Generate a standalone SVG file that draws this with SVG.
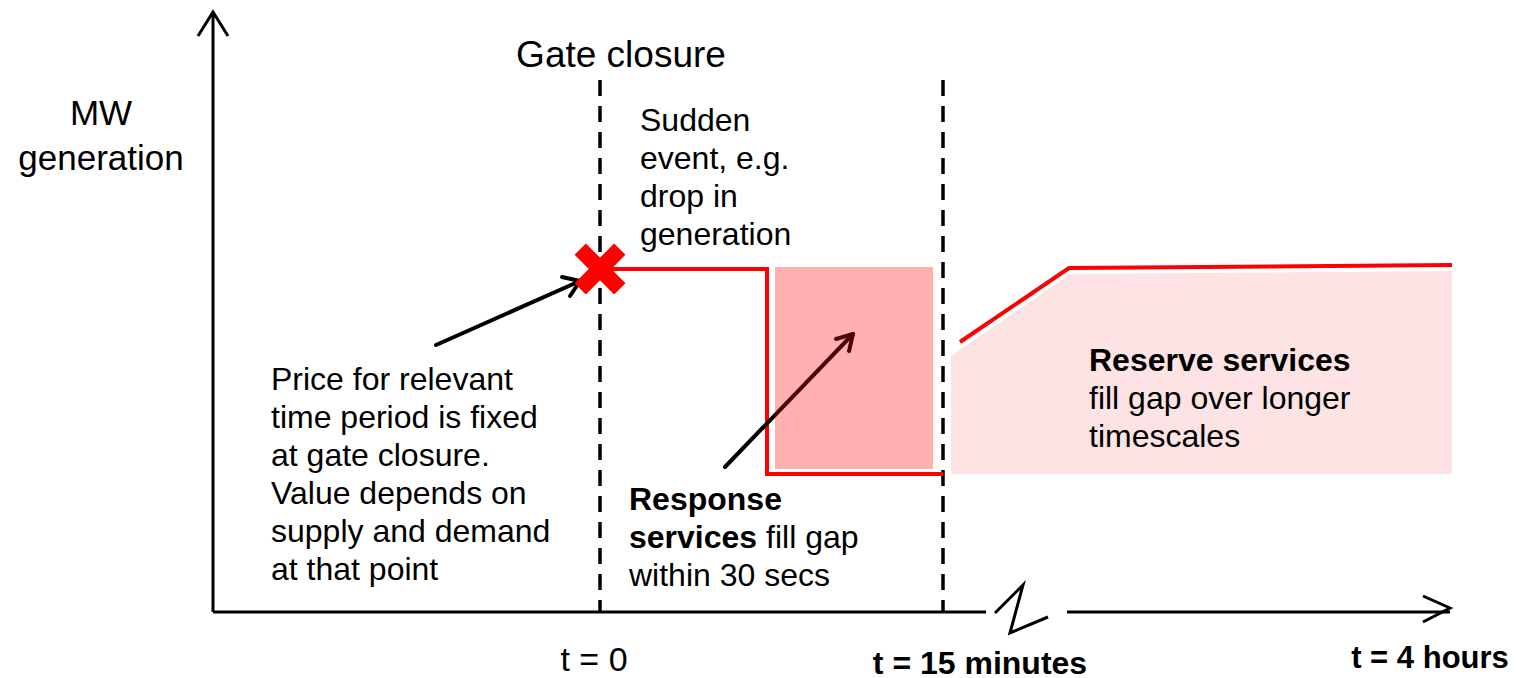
<svg xmlns="http://www.w3.org/2000/svg" width="1516" height="678" viewBox="0 0 1516 678">
<style>
text{font-family:"Liberation Sans",Arial,sans-serif;font-size:32px;fill:#000}
.b{font-weight:bold}
.ax{stroke:#000;stroke-width:3;fill:none}
.dash{stroke:#000;stroke-width:3.5;stroke-dasharray:16 10;fill:none}
.red{stroke:#ff0000;stroke-width:4;fill:none}
.arr{stroke:#000;stroke-width:4;fill:none;stroke-linecap:round;stroke-linejoin:round}
</style>
<rect width="1516" height="678" fill="#fff"/>
<g id="reserve-area">
<polygon points="951,356 1070,274 1452,271 1452,474 951,474" fill="#fde3e3"/>
</g>
<g id="connectors">
<g id="axes">
<line class="ax" x1="213" y1="612" x2="213" y2="12"/>
<polyline class="ax" points="198,36 213,12 228,36"/>
<line class="ax" x1="213" y1="612" x2="986" y2="612"/>
<polyline class="ax" points="995,613 1023,585 1010,633 1048,617"/>
<line class="ax" x1="1067" y1="612" x2="1450" y2="612"/>
<polyline class="ax" points="1423,596 1450,608 1423,622"/>
</g>
<line class="dash" x1="600" y1="80" x2="600" y2="612"/>
<line class="dash" x1="943" y1="80" x2="943" y2="612"/>
<polyline class="red" points="600,269 767,269 767,474 943,474"/>
<polyline class="red" points="960,342 1069,268 1452,265"/>
<line class="arr" x1="436" y1="345" x2="580" y2="281"/>
<polyline class="arr" points="562,277 580,281 570,296"/>
<line class="arr" x1="725" y1="467" x2="853" y2="334"/>
<polyline class="arr" points="836,339 853,334 849,351"/>
</g>
<g id="response-box">
<rect x="775" y="267" width="158" height="202" fill="#ff0000" fill-opacity="0.31"/>
</g>
<g id="gate-marker">
<rect x="572" y="261" width="56" height="16" fill="#ff0000" transform="rotate(45 600 269)"/>
<rect x="572" y="261" width="56" height="16" fill="#ff0000" transform="rotate(-45 600 269)"/>
</g>
<g id="labels">
<text x="101" y="125" text-anchor="middle" style="font-size:35px">MW</text>
<text x="101" y="170" text-anchor="middle" style="font-size:35px">generation</text>
<text x="621" y="67" text-anchor="middle" style="font-size:37px">Gate closure</text>
<text x="640" y="131">Sudden</text>
<text x="640" y="169">event, e.g.</text>
<text x="640" y="207">drop in</text>
<text x="640" y="245">generation</text>
<text x="271" y="390">Price for relevant</text>
<text x="271" y="428">time period is fixed</text>
<text x="271" y="466">at gate closure.</text>
<text x="271" y="504">Value depends on</text>
<text x="271" y="542">supply and demand</text>
<text x="271" y="580">at that point</text>
<text x="629" y="510" class="b">Response</text>
<text x="629" y="548"><tspan class="b">services</tspan> fill gap</text>
<text x="629" y="586">within 30 secs</text>
<text x="1089" y="371" class="b">Reserve services</text>
<text x="1089" y="409">fill gap over longer</text>
<text x="1089" y="447">timescales</text>
<text x="594" y="671" text-anchor="middle" style="font-size:34px">t = 0</text>
<text x="980" y="674" text-anchor="middle" class="b" style="font-size:32px">t = 15 minutes</text>
<text x="1430" y="668" text-anchor="middle" class="b" style="font-size:31px">t = 4 hours</text>
</g>
</svg>
